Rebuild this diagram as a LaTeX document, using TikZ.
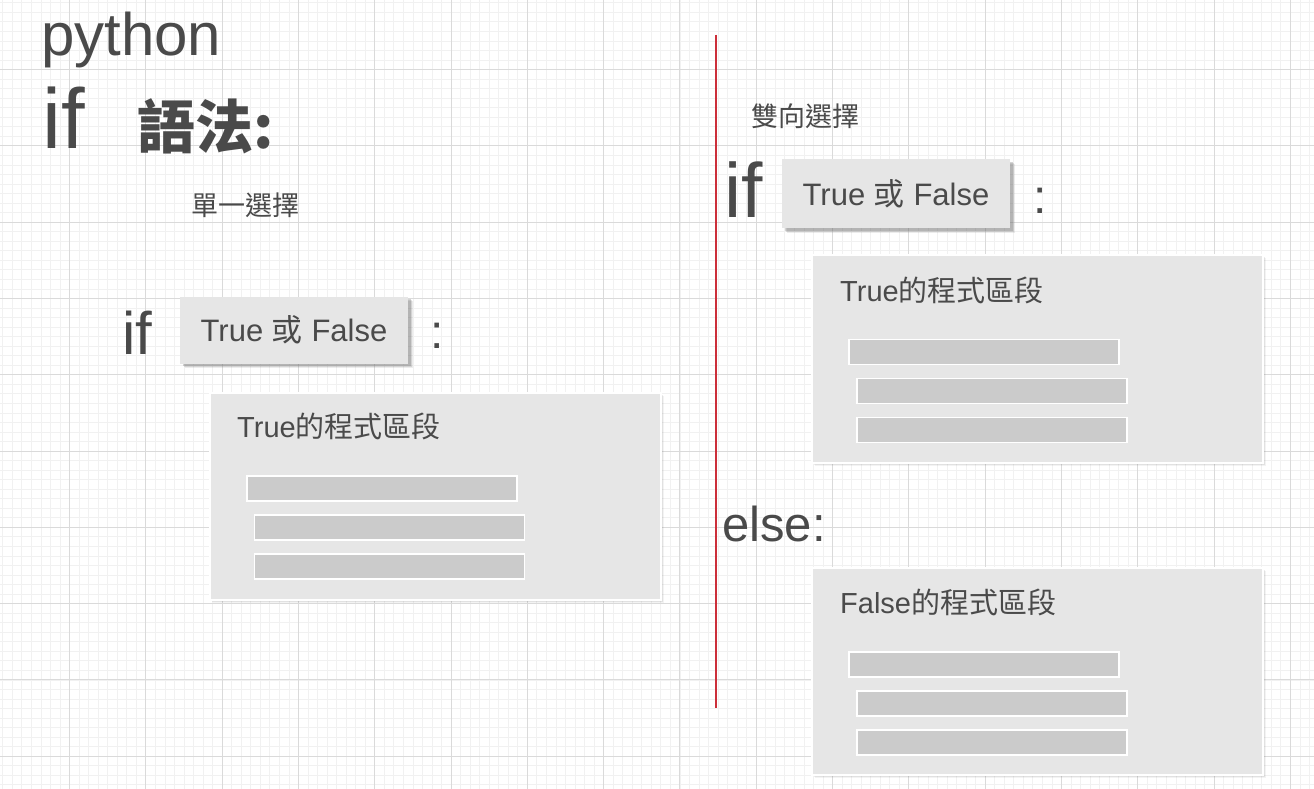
\documentclass[tikz,border=0pt]{standalone}
\usepackage{fontspec}
\setmainfont{Liberation Sans}
\newfontfamily\cjk{Noto Sans CJK TC}
\usetikzlibrary{positioning,shadows}
\definecolor{ink}{HTML}{4A4A4A}
\definecolor{boxgray}{HTML}{E6E6E6}
\definecolor{bargray}{HTML}{CBCBCB}
\definecolor{gridminor}{HTML}{F1F1F1}
\definecolor{gridmajor}{HTML}{DADADA}
\definecolor{divider}{HTML}{CC2F3A}
\tikzset{
  word/.style={text=ink,inner sep=0pt,anchor=base west},
  condbox/.style={fill=boxgray,inner sep=0pt,minimum width=228,minimum height=67,
    drop shadow={shadow xshift=4.5pt,shadow yshift=-4.5pt,opacity=0.12,fill=black!60},
    drop shadow={shadow xshift=3.5pt,shadow yshift=-3.5pt,opacity=0.18,fill=black!60},
    drop shadow={shadow xshift=2.5pt,shadow yshift=-2.5pt,opacity=0.28,fill=black!60}},
  blockbox/.style={fill=boxgray,draw=white,line width=1.2pt,inner sep=0pt,
    minimum width=451,minimum height=207,
    drop shadow={shadow xshift=3pt,shadow yshift=-3pt,opacity=0.08,fill=black!60},
    drop shadow={shadow xshift=2pt,shadow yshift=-2pt,opacity=0.12,fill=black!60}},
  bar/.style={fill=bargray,draw=white,line width=1.5pt,inner sep=0pt,
    minimum width=270,minimum height=25},
  blocktitle/.style={text=ink,inner sep=0pt,anchor=west,font=\fontsize{29}{30}\selectfont}
}

\begin{document}
\begin{tikzpicture}[x=1pt,y=-1pt]
\useasboundingbox (0,0) rectangle (1314,789);
\fill[white] (0,0) rectangle (1314,789);
% background grid
\begin{scope}
\clip (0,0) rectangle (1314,789);
\foreach \i in {0,...,138} {
  \draw[gridminor,line width=0.7pt] (2.74+\i*9.5375,0) -- ++(0,789);
}
\foreach \i in {0,...,83} {
  \draw[gridminor,line width=0.7pt] (0,2.74+\i*9.5375) -- ++(1314,0);
}
\foreach \i in {-1,...,16} {
  \draw[gridmajor,line width=0.9pt] (69.5+\i*76.3,0) -- ++(0,789);
}
\foreach \i in {-1,...,10} {
  \draw[gridmajor,line width=0.9pt] (0,69.5+\i*76.3) -- ++(1314,0);
}
\end{scope}

% heading
\node[word,font=\fontsize{60}{62}\selectfont] (py) at (41,56) {python};
\node[word,font=\fontsize{85}{86}\selectfont] (bigif) at (42,148) {if};
\node[word,font=\cjk\bfseries\fontsize{58}{60}\selectfont] (syntax) at (137,148) {語法:};

% single choice
\node[text=ink,inner sep=0pt,font=\cjk\fontsize{27}{28}\selectfont] (single) at (245,205) {單一選擇};
\node[text=ink,inner sep=0pt,font=\fontsize{60}{61}\selectfont] (ifA) at (137,333) {if};
\node[condbox,font=\fontsize{31}{32}\selectfont,text=ink] (condA) at (294,330) {True {\cjk 或} False};
\node[text=ink,inner sep=0pt,font=\fontsize{48}{49}\selectfont] (colA) at (437,336) {:};
\node[blockbox] (trueA) at (435.5,496.5) {};
\node[blocktitle] (trueAt) at (237,426) {True{\cjk 的程式區段}};
\node[bar] (a1) at (382,488.5) {};
\node[bar] (a2) at (389.5,527.5) {};
\node[bar] (a3) at (389.5,566.5) {};

% divider
\coordinate (divtop) at (716,35);
\coordinate (divbot) at (716,708);
\draw[divider,line width=1.6pt] (divtop) -- (divbot);

% two-way choice
\node[text=ink,inner sep=0pt,font=\cjk\fontsize{27}{28}\selectfont] (double) at (805,116) {雙向選擇};
\node[text=ink,inner sep=0pt,font=\fontsize{77}{78}\selectfont] (ifB) at (744,190) {if};
\node[condbox,minimum height=69,font=\fontsize{31}{32}\selectfont,text=ink] (condB) at (896,193.5) {True {\cjk 或} False};
\node[text=ink,inner sep=0pt,font=\fontsize{48}{49}\selectfont] (colB) at (1040,201) {:};
\node[blockbox,minimum height=208] (trueB) at (1037.5,359) {};
\node[blocktitle] (trueBt) at (840,290) {True{\cjk 的程式區段}};
\node[bar] (b1) at (984,352) {};
\node[bar] (b2) at (992,391) {};
\node[bar] (b3) at (992,430) {};
\node[word,font=\fontsize{49}{50}\selectfont] (elseB) at (722,541) {else:};
\node[blockbox] (falseB) at (1037.5,671.5) {};
\node[blocktitle] (falseBt) at (840,602) {False{\cjk 的程式區段}};
\node[bar] (c1) at (984,664.5) {};
\node[bar] (c2) at (992,703.5) {};
\node[bar] (c3) at (992,742.5) {};
\end{tikzpicture}
\end{document}
